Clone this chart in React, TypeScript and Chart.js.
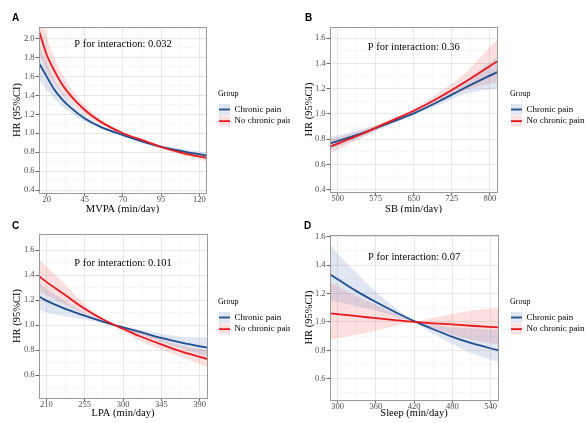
import React, { useEffect, useRef } from 'react';
import { Chart, registerables } from 'chart.js';

Chart.register(...registerables);

const GROUPS = ['Chronic pain', 'No chronic pain'];
const BLUE = '#1f4f8f';
const RED = '#e8191e';
const BLUE_BAND = 'rgba(70, 115, 185, 0.17)';
const RED_BAND = 'rgba(238, 70, 70, 0.17)';
const SERIF = "'Liberation Serif', 'Times New Roman', serif";
const SANS = "'Liberation Sans', Arial, sans-serif";

// ---------- Panel A: MVPA ----------
const mvpaX = [15, 20, 25, 30, 35, 45, 55, 70, 85, 95, 110, 124.4];
const mvpaChronic = [1.74, 1.6, 1.46, 1.36, 1.28, 1.155, 1.07, 0.98, 0.9, 0.856, 0.807, 0.765];
const mvpaChronicHi = [1.93, 1.74, 1.57, 1.44, 1.34, 1.19, 1.09, 0.99, 0.915, 0.87, 0.835, 0.8];
const mvpaChronicLo = [1.56, 1.46, 1.36, 1.28, 1.22, 1.12, 1.05, 0.97, 0.885, 0.842, 0.78, 0.73];
const mvpaNoPain = [2.08, 1.83, 1.66, 1.52, 1.41, 1.245, 1.125, 1.0, 0.915, 0.855, 0.788, 0.74];
const mvpaNoPainHi = [2.35, 2.02, 1.8, 1.63, 1.49, 1.295, 1.155, 1.01, 0.93, 0.872, 0.815, 0.78];
const mvpaNoPainLo = [1.84, 1.66, 1.53, 1.42, 1.34, 1.195, 1.095, 0.99, 0.9, 0.84, 0.762, 0.705];
const mvpaXTicks = [20, 45, 70, 95, 120];
const mvpaXMinor = [32.5, 57.5, 82.5, 107.5];
const mvpaYTicks = [0.4, 0.6, 0.8, 1.0, 1.2, 1.4, 1.6, 1.8, 2.0];
const mvpaYMinor = [0.5, 0.7, 0.9, 1.1, 1.3, 1.5, 1.7, 1.9, 2.1];

// ---------- Panel B: SB ----------
const sbX = [485, 500, 550, 600, 650, 700, 750, 814];
const sbChronic = [0.766, 0.785, 0.85, 0.925, 1.004, 1.1, 1.205, 1.33];
const sbChronicHi = [0.82, 0.83, 0.88, 0.94, 1.02, 1.135, 1.26, 1.45];
const sbChronicLo = [0.72, 0.74, 0.82, 0.905, 0.99, 1.07, 1.155, 1.2];
const sbNoPain = [0.74, 0.765, 0.845, 0.935, 1.025, 1.13, 1.25, 1.415];
const sbNoPainHi = [0.8, 0.815, 0.875, 0.95, 1.04, 1.17, 1.32, 1.59];
const sbNoPainLo = [0.685, 0.715, 0.815, 0.92, 1.005, 1.09, 1.185, 1.25];
const sbXTicks = [500, 575, 650, 725, 800];
const sbXMinor = [537.5, 612.5, 687.5, 762.5];
const sbYTicks = [0.4, 0.6, 0.8, 1.0, 1.2, 1.4, 1.6];
const sbYMinor = [0.5, 0.7, 0.9, 1.1, 1.3, 1.5];

// ---------- Panel C: LPA ----------
const lpaX = [201.3, 210, 230, 255, 275, 290, 300, 320, 345, 370, 398.7];
const lpaChronic = [1.228, 1.195, 1.135, 1.075, 1.03, 1.0, 0.982, 0.945, 0.897, 0.857, 0.82];
const lpaChronicHi = [1.34, 1.29, 1.2, 1.1, 1.04, 1.003, 0.99, 0.965, 0.93, 0.905, 0.9];
const lpaChronicLo = [1.12, 1.1, 1.07, 1.045, 1.02, 0.997, 0.97, 0.925, 0.865, 0.81, 0.75];
const lpaNoPain = [1.39, 1.345, 1.25, 1.13, 1.05, 1.0, 0.97, 0.91, 0.845, 0.785, 0.728];
const lpaNoPainHi = [1.53, 1.47, 1.34, 1.165, 1.065, 1.005, 0.985, 0.945, 0.885, 0.835, 0.8];
const lpaNoPainLo = [1.27, 1.24, 1.17, 1.09, 1.035, 0.995, 0.955, 0.875, 0.805, 0.74, 0.665];
const lpaXTicks = [210, 255, 300, 345, 390];
const lpaXMinor = [232.5, 277.5, 322.5, 367.5];
const lpaYTicks = [0.6, 0.8, 1.0, 1.2, 1.4, 1.6];
const lpaYMinor = [0.5, 0.7, 0.9, 1.1, 1.3, 1.5, 1.7];

// ---------- Panel D: Sleep ----------
const sleepX = [287.9, 300, 330, 360, 390, 420, 450, 480, 510, 551.6];
const sleepChronic = [1.335, 1.3, 1.215, 1.14, 1.07, 1.005, 0.948, 0.895, 0.85, 0.8];
const sleepChronicHi = [1.55, 1.48, 1.34, 1.21, 1.1, 1.015, 0.985, 0.96, 0.955, 0.94];
const sleepChronicLo = [1.15, 1.14, 1.11, 1.08, 1.04, 0.995, 0.915, 0.845, 0.78, 0.72];
const sleepNoPain = [1.06, 1.055, 1.04, 1.027, 1.013, 1.0, 0.99, 0.982, 0.973, 0.962];
const sleepNoPainHi = [1.28, 1.25, 1.18, 1.12, 1.055, 1.005, 1.03, 1.055, 1.08, 1.1];
const sleepNoPainLo = [0.87, 0.885, 0.91, 0.94, 0.97, 0.995, 0.95, 0.91, 0.875, 0.84];
const sleepXTicks = [300, 360, 420, 480, 540];
const sleepXMinor = [330, 390, 450, 510];
const sleepYTicks = [0.6, 0.8, 1.0, 1.2, 1.4, 1.6];
const sleepYMinor = [0.5, 0.7, 0.9, 1.1, 1.3, 1.5];

const P_TEXTS = ['P for interaction: 0.032', 'P for interaction: 0.36', 'P for interaction: 0.101', 'P for interaction: 0.07'];
const X_TITLES = ['MVPA (min/day)', 'SB (min/day)', 'LPA (min/day)', 'Sleep (min/day)'];
const Y_TITLE = 'HR (95%CI)';
const LETTERS = ['A', 'B', 'C', 'D'];

type Panel = {
  letter: string;
  left: number; top: number; w: number; h: number;
  area: { l: number; t: number; r: number; b: number };
  xMin: number; xMax: number; yMin: number; yMax: number;
  x: number[];
  chronic: number[]; chronicHi: number[]; chronicLo: number[];
  noPain: number[]; noPainHi: number[]; noPainLo: number[];
  xTicks: number[]; xMinor: number[]; yTicks: number[]; yMinor: number[];
  xTitle: string; pText: string; pX: number; pY: number;
  yTitleX: number; xTitleY: number;
  letterPos: [number, number];
  legendX: number; legendY: number;
};

const PANELS: Panel[] = [
  {
    letter: LETTERS[0], left: 0, top: 0, w: 290, h: 213,
    area: { l: 39, t: 27, r: 206, b: 193 },
    xMin: 15, xMax: 124.4, yMin: 0.37, yMax: 2.12,
    x: mvpaX, chronic: mvpaChronic, chronicHi: mvpaChronicHi, chronicLo: mvpaChronicLo,
    noPain: mvpaNoPain, noPainHi: mvpaNoPainHi, noPainLo: mvpaNoPainLo,
    xTicks: mvpaXTicks, xMinor: mvpaXMinor, yTicks: mvpaYTicks, yMinor: mvpaYMinor,
    xTitle: X_TITLES[0], pText: P_TEXTS[0], pX: 70, pY: 1.94,
    yTitleX: 17, xTitleY: 209.5, letterPos: [12, 18.5], legendX: 218, legendY: 94,
  },
  {
    letter: LETTERS[1], left: 290, top: 0, w: 295, h: 213,
    area: { l: 40, t: 27, r: 207, b: 192 },
    xMin: 485, xMax: 814, yMin: 0.382, yMax: 1.687,
    x: sbX, chronic: sbChronic, chronicHi: sbChronicHi, chronicLo: sbChronicLo,
    noPain: sbNoPain, noPainHi: sbNoPainHi, noPainLo: sbNoPainLo,
    xTicks: sbXTicks, xMinor: sbXMinor, yTicks: sbYTicks, yMinor: sbYMinor,
    xTitle: X_TITLES[1], pText: P_TEXTS[1], pX: 650, pY: 1.53,
    yTitleX: 19, xTitleY: 209.5, letterPos: [15, 18.5], legendX: 220, legendY: 94,
  },
  {
    letter: LETTERS[2], left: 0, top: 213, w: 290, h: 210,
    area: { l: 39, t: 21, r: 207, b: 185 },
    xMin: 201.3, xMax: 398.7, yMin: 0.4165, yMax: 1.728,
    x: lpaX, chronic: lpaChronic, chronicHi: lpaChronicHi, chronicLo: lpaChronicLo,
    noPain: lpaNoPain, noPainHi: lpaNoPainHi, noPainLo: lpaNoPainLo,
    xTicks: lpaXTicks, xMinor: lpaXMinor, yTicks: lpaYTicks, yMinor: lpaYMinor,
    xTitle: X_TITLES[2], pText: P_TEXTS[2], pX: 300, pY: 1.495,
    yTitleX: 17.5, xTitleY: 200, letterPos: [12, 13], legendX: 218, legendY: 89,
  },
  {
    letter: LETTERS[3], left: 290, top: 213, w: 295, h: 210,
    area: { l: 40, t: 22, r: 208, b: 187 },
    xMin: 287.9, xMax: 551.6, yMin: 0.45, yMax: 1.612,
    x: sleepX, chronic: sleepChronic, chronicHi: sleepChronicHi, chronicLo: sleepChronicLo,
    noPain: sleepNoPain, noPainHi: sleepNoPainHi, noPainLo: sleepNoPainLo,
    xTicks: sleepXTicks, xMinor: sleepXMinor, yTicks: sleepYTicks, yMinor: sleepYMinor,
    xTitle: X_TITLES[3], pText: P_TEXTS[3], pX: 420, pY: 1.455,
    yTitleX: 19, xTitleY: 200, letterPos: [14, 13], legendX: 220, legendY: 89,
  },
];

const isIn = (arr: number[], v: number) => arr.some((a) => Math.abs(a - v) < 1e-6);

const decorPlugin = {
  id: 'panelDecor',
  afterDatasetsDraw(chart: any, _args: any, opts: any) {
    const { ctx, chartArea: ca } = chart;
    ctx.save();
    ctx.strokeStyle = '#9a9a9a';
    ctx.lineWidth = 1;
    ctx.strokeRect(Math.round(ca.left) + 0.5, Math.round(ca.top) + 0.5, Math.round(ca.right - ca.left), Math.round(ca.bottom - ca.top));
    // P for interaction annotation
    ctx.fillStyle = '#000';
    ctx.font = `10.5px ${SERIF}`;
    ctx.textAlign = 'center';
    ctx.textBaseline = 'middle';
    ctx.fillText(opts.pText, chart.scales.x.getPixelForValue(opts.pX), chart.scales.y.getPixelForValue(opts.pY));
    ctx.restore();
  },
  afterDraw(chart: any, _args: any, opts: any) {
    const { ctx } = chart;
    ctx.save();
    // panel letter
    ctx.fillStyle = '#000';
    ctx.font = `bold 10px ${SANS}`;
    ctx.textAlign = 'left';
    ctx.textBaseline = 'middle';
    ctx.fillText(opts.letter, opts.letterPos[0], opts.letterPos[1]);
    // legend
    const lx = opts.legendX;
    const ly = opts.legendY;
    ctx.font = `8px ${SERIF}`;
    ctx.fillStyle = '#000';
    ctx.fillText('Group', lx, ly);
    const items = [
      { label: GROUPS[0], line: BLUE, band: BLUE_BAND },
      { label: GROUPS[1], line: RED, band: RED_BAND },
    ];
    items.forEach((it, i) => {
      const cy = ly + 15.5 + i * 11.6;
      ctx.fillStyle = it.band;
      ctx.fillRect(lx + 1, cy - 5.5, 11, 11);
      ctx.strokeStyle = it.line;
      ctx.lineWidth = 1.8;
      ctx.beginPath();
      ctx.moveTo(lx + 1, cy);
      ctx.lineTo(lx + 12, cy);
      ctx.stroke();
      ctx.fillStyle = '#000';
      ctx.font = `9px ${SERIF}`;
      ctx.fillText(it.label, lx + 16.5, cy);
    });
    ctx.restore();
  },
};

function PanelChart({ p }: { p: Panel }) {
  const ref = useRef<HTMLCanvasElement>(null);
  useEffect(() => {
    if (!ref.current) return;
    const pts = (ys: number[]) => p.x.map((x, i) => ({ x, y: ys[i] }));
    const lineDs = (label: string, ys: number[], color: string) => ({
      label, data: pts(ys), borderColor: color, borderWidth: 1.8, pointRadius: 0,
      fill: false, cubicInterpolationMode: 'monotone' as const,
    });
    const bandDs = (ys: number[], fill: any, color: string) => ({
      label: '', data: pts(ys), borderColor: 'transparent', borderWidth: 0, pointRadius: 0,
      backgroundColor: color, fill, cubicInterpolationMode: 'monotone' as const,
    });
    const a = p.area;
    const gridColor = (ctx: any, major: number[]) => {
      const v = ctx.tick ? ctx.tick.value : null;
      return v !== null && isIn(major, v) ? '#e4e4e4' : '#f1f1f1';
    };
    const gridWidth = (ctx: any, major: number[]) => {
      const v = ctx.tick ? ctx.tick.value : null;
      return v !== null && isIn(major, v) ? 0.9 : 0.5;
    };
    const tickColor = (ctx: any, major: number[]) => {
      const v = ctx.tick ? ctx.tick.value : null;
      return v !== null && isIn(major, v) ? '#555' : 'rgba(0,0,0,0)';
    };
    const chart = new Chart(ref.current, {
      type: 'line',
      data: {
        datasets: [
          lineDs(GROUPS[1], p.noPain, RED),
          lineDs(GROUPS[0], p.chronic, BLUE),
          bandDs(p.chronicHi, { target: 3 }, BLUE_BAND),
          bandDs(p.chronicLo, false, 'transparent'),
          bandDs(p.noPainHi, { target: 5 }, RED_BAND),
          bandDs(p.noPainLo, false, 'transparent'),
        ] as any,
      },
      plugins: [decorPlugin],
      options: {
        responsive: false,
        animation: false,
        events: [],
        layout: { padding: { top: a.t, right: p.w - a.r, left: 0, bottom: 0 } },
        plugins: {
          legend: { display: false },
          tooltip: { enabled: false },
          panelDecor: {
            pText: p.pText, pX: p.pX, pY: p.pY, letter: p.letter, letterPos: p.letterPos,
            legendX: p.legendX, legendY: p.legendY,
          },
        } as any,
        scales: {
          x: {
            type: 'linear',
            min: p.xMin,
            max: p.xMax,
            afterBuildTicks: (s: any) => {
              s.ticks = [...p.xTicks, ...p.xMinor]
                .filter((v) => v >= p.xMin && v <= p.xMax)
                .sort((m, n) => m - n)
                .map((v) => ({ value: v }));
            },
            afterFit: (s: any) => { s.height = p.h - a.b; },
            ticks: {
              autoSkip: false, maxRotation: 0, minRotation: 0, padding: -1,
              color: '#4d4d4d', font: { family: SERIF, size: 8.5 },
              callback: (v: any) => (isIn(p.xTicks, Number(v)) ? String(v) : ''),
            },
            grid: {
              color: (c: any) => gridColor(c, p.xTicks),
              lineWidth: (c: any) => gridWidth(c, p.xTicks),
              tickColor: (c: any) => tickColor(c, p.xTicks),
              tickLength: 3,
            },
            border: { display: false },
            title: {
              display: true, text: p.xTitle, color: '#000',
              font: { family: SERIF, size: 10.5, lineHeight: 1 },
              padding: { top: 0, bottom: p.h - p.xTitleY - 5.25 },
            },
          },
          y: {
            type: 'linear',
            min: p.yMin,
            max: p.yMax,
            afterBuildTicks: (s: any) => {
              s.ticks = [...p.yTicks, ...p.yMinor]
                .filter((v) => v >= p.yMin && v <= p.yMax)
                .sort((m, n) => m - n)
                .map((v) => ({ value: v }));
            },
            afterFit: (s: any) => { s.width = a.l; },
            ticks: {
              autoSkip: false, padding: 1,
              color: '#4d4d4d', font: { family: SERIF, size: 8.5 },
              callback: (v: any) => (isIn(p.yTicks, Number(v)) ? Number(v).toFixed(1) : ''),
            },
            grid: {
              color: (c: any) => gridColor(c, p.yTicks),
              lineWidth: (c: any) => gridWidth(c, p.yTicks),
              tickColor: (c: any) => tickColor(c, p.yTicks),
              tickLength: 3.5,
            },
            border: { display: false },
            title: {
              display: true, text: Y_TITLE, color: '#000',
              font: { family: SERIF, size: 10.5, lineHeight: 1 },
              padding: { top: p.yTitleX - 5.25, bottom: 0 },
            },
          },
        },
      } as any,
    });
    return () => chart.destroy();
  }, [p]);
  return (
    <canvas
      ref={ref}
      width={p.w}
      height={p.h}
      style={{ position: 'absolute', left: p.left, top: p.top, width: p.w, height: p.h }}
    />
  );
}

export default function App() {
  return (
    <div style={{ position: 'absolute', left: 0, top: 0, width: 585, height: 423, background: '#fff', overflow: 'hidden' }}>
      {PANELS.map((p) => (
        <PanelChart key={p.letter} p={p} />
      ))}
    </div>
  );
}
